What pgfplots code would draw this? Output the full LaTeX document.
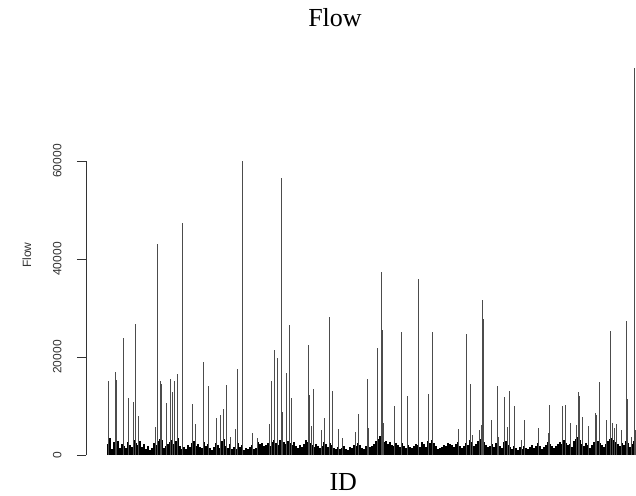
\documentclass[border=0pt]{standalone}
\usepackage{fontspec}
\setmainfont{Liberation Serif}
\setsansfont{Liberation Sans}
\usepackage{pgfplots}
\pgfplotsset{compat=1.18}
\begin{document}
\begin{tikzpicture}
\useasboundingbox (0,0) rectangle (636bp,496bp);
\begin{axis}[
  at={(86bp,41bp)}, anchor=south west,
  scale only axis, width=550bp, height=294bp,
  xmin=86, xmax=636, ymin=0, ymax=60000,
  clip=false, enlargelimits=false,
  axis x line*=bottom, x axis line style={draw=none}, xtick=\empty,
  axis y line*=left,
  y axis line style={black!80, line width=0.75bp, -},
  ytick={0,20000,40000,60000},
  tick align=outside, major tick length=9bp,
  tick style={black!80, line width=0.75bp},
  scaled y ticks=false,
  /pgf/number format/1000 sep={},
  /pgf/number format/assume math mode=true,
  yticklabel style={font=\sffamily\fontsize{12bp}{14bp}\selectfont, text=black!80, rotate=90, anchor=south, yshift=12bp},
  title={Flow},
  title style={font=\fontsize{26bp}{30bp}\selectfont, anchor=base, at={(axis description cs:0.4527,1.4364)}},
  xlabel={ID},
  xlabel style={font=\fontsize{26bp}{30bp}\selectfont, anchor=base, at={(axis description cs:0.4678,-0.1224)}},
  ylabel={Flow},
  ylabel style={font=\sffamily\fontsize{12bp}{14bp}\selectfont, text=black!80, rotate=0, anchor=base, at={(axis description cs:-0.0997,0.680)}},
]
% baseline band of small flows
\addplot[ycomb, black, line width=2.1bp, mark=none] coordinates {
(108,2200)(110,3500)(112,1200)(114,2600)(116,1800)(118,2900)(120,1500)(122,2300)(124,1900)(126,1400)
(128,2700)(130,2100)(132,1600)(134,3000)(136,2400)(138,2000)(140,2800)(142,1700)(144,2200)(146,1300)
(148,1800)(150,1100)(152,1500)(154,2400)(156,2000)(158,2900)(160,3300)(162,3100)(164,1400)(166,1900)
(168,2300)(170,2600)(172,3000)(174,2200)(176,2800)(178,3400)(180,1800)(182,1300)(184,1600)(186,1200)
(188,2000)(190,1700)(192,2400)(194,2900)(196,1900)(198,2300)(200,1600)(202,1400)(204,2700)(206,1800)
(208,2200)(210,1500)(212,1100)(214,1700)(216,2500)(218,2000)(220,1400)(222,2800)(224,3200)(226,1900)
(228,1500)(230,2300)(232,1200)(234,1600)(236,1300)(238,2500)(240,1700)(242,2100)(244,1000)(246,1400)
(248,1200)(250,1600)(252,2000)(254,1300)(256,1500)(258,2600)(260,2200)(262,2400)(264,1800)(266,2000)
(268,2500)(270,1900)(272,2700)(274,3100)(276,2400)(278,2000)(280,3000)(282,3600)(284,2700)(286,2200)
(288,2900)(290,2500)(292,2000)(294,2600)(296,1800)(298,1500)(300,2100)(302,1700)(304,2300)(306,3000)
(308,2700)(310,2400)(312,2000)(314,1600)(316,2200)(318,1900)(320,1400)(322,1800)(324,2600)(326,2200)
(328,1700)(330,2500)(332,2000)(334,1500)(336,1300)(338,1700)(340,1200)(342,1500)(344,1900)(346,1300)
(348,1100)(350,1600)(352,1400)(354,2100)(356,1800)(358,2400)(360,2000)(362,1500)(364,1300)(366,1900)
(368,2200)(370,1600)(372,1800)(374,2300)(376,2800)(378,3300)(380,3900)(382,3100)(384,2600)(386,2900)
(388,2200)(390,2600)(392,2000)(394,1800)(396,2400)(398,2100)(400,1700)(402,2500)(404,1900)(406,1500)
(408,2000)(410,1600)(412,1400)(414,1800)(416,2300)(418,2000)(420,1700)(422,2600)(424,2200)(426,1600)
(428,2900)(430,2500)(432,3100)(434,2400)(436,1800)(438,1300)(440,1500)(442,1700)(444,2100)(446,1900)
(448,2400)(450,2200)(452,2000)(454,1600)(456,2300)(458,2700)(460,1800)(462,1500)(464,1900)(466,2400)
(468,2100)(470,3000)(472,2600)(474,1800)(476,2200)(478,2800)(480,3300)(482,3900)(484,2600)(486,2100)
(488,1600)(490,1900)(492,2300)(494,1700)(496,2500)(498,2000)(500,1800)(502,1400)(504,2600)(506,2900)
(508,2100)(510,1700)(512,1300)(514,1900)(516,1500)(518,1100)(520,1600)(522,1300)(524,1800)(526,1400)
(528,1200)(530,1700)(532,2000)(534,1500)(536,1900)(538,2400)(540,1800)(542,1300)(544,1600)(546,2000)
(548,2700)(550,2300)(552,1900)(554,1400)(556,1800)(558,2200)(560,2600)(562,2300)(564,3000)(566,2500)
(568,2000)(570,2200)(572,1700)(574,2900)(576,3300)(578,3700)(580,3000)(582,2200)(584,1800)(586,2400)
(588,2000)(590,1500)(592,2100)(594,2600)(596,3000)(598,2800)(600,2400)(602,2000)(604,1600)(606,2200)
(608,2900)(610,3200)(612,3500)(614,3000)(616,2700)(618,2300)(620,1900)(622,2400)(624,2100)(626,2800)
(628,2500)(630,1700)(632,2300)(634,2900)(636,1900)
};
% larger flows
\addplot[ycomb, black!70, line width=1bp, mark=none] coordinates {
(108,15000)(115,17000)(116.3,15300)(123.7,23900)(128.7,11700)(133,10900)(135.3,26700)(138.7,8000)
(155,5800)(157,43000)(160.3,15200)(161.3,14500)(166.7,10700)(170.3,15600)(172.3,12800)(174.7,15100)
(177,16500)(182.3,47400)(192.7,10500)(195.7,6300)(203,19000)(208,14100)(216.7,7500)(220.7,8200)
(223,9400)(226,14200)(230,3700)(235.3,5400)(237.3,17600)(242,60000)(252,4500)(257.3,3500)
(269,6300)(271.7,15000)(274,21400)(277,19700)(281.7,56500)(282.7,8800)(286.7,16700)(289.7,26500)
(291.7,11600)(308.3,22400)(309.3,12200)(311.3,5900)(313.7,13400)(321.7,5200)(324,7600)(329.3,28200)
(332.3,13100)(338.7,5400)(342,3500)(355.7,4600)(358.7,8400)(367.7,15500)(368.7,5600)(377,21800)
(381.3,37400)(382.3,25500)(383.3,6600)(394,9900)(401,25100)(407.3,12000)(418.7,35900)(428,12400)
(432.3,25100)(458.7,5400)(466.7,24700)(470,14500)(472.7,4100)(479.3,5100)(481.3,6100)(482,31600)
(483,27800)(491.7,7100)(497,14100)(498,3600)(504.3,11800)(507.3,5800)(509.3,13100)(514.7,10100)
(521.7,3100)(524,7100)(538.7,5600)(548,4400)(549,10300)(562.3,9900)(565.7,10200)(570.7,6500)
(576,6100)(578,12800)(579.3,12100)(582.7,7800)(588,6000)(595,8500)(596.3,8200)(599.3,14800)
(606.3,7100)(610.7,25300)(612.7,6600)(614.7,5600)(616.7,6300)(621,5100)(626,27400)(627,11400)
(631.7,3700)(634.7,78900)(635.7,5100)
};
\end{axis}
\end{tikzpicture}
\end{document}
